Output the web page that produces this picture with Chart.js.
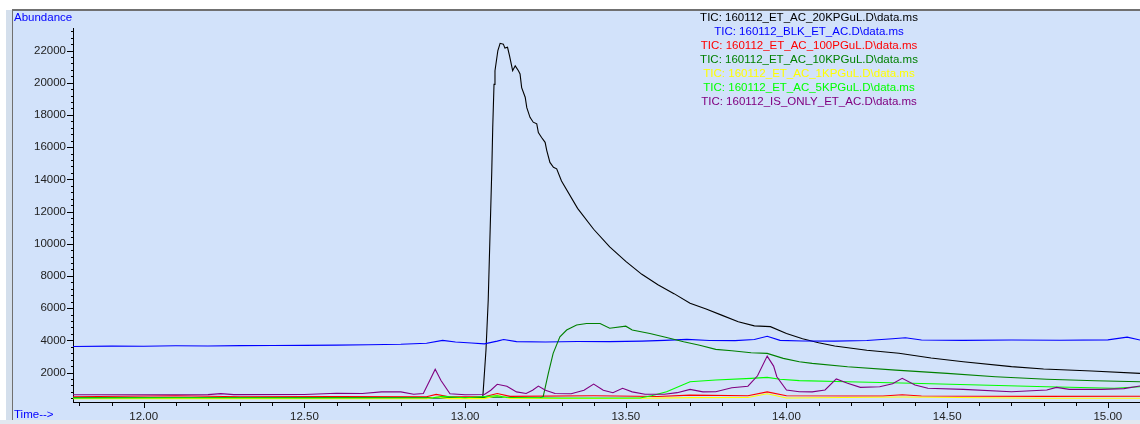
<!DOCTYPE html>
<html>
<head>
<meta charset="utf-8">
<script src="https://cdn.jsdelivr.net/npm/chart.js@4.4.1/dist/chart.umd.min.js"></script>
<style>
  html, body { margin: 0; padding: 0; background: #ffffff; }
  #wrap { width: 1140px; height: 424px; }
</style>
</head>
<body>
<div id="wrap"><canvas id="chart" width="1140" height="424"></canvas></div>
<script>
// TIC overlay, values (time in min, abundance)

var blackTime = [11.78, 12.40, 13.00, 13.055, 13.065, 13.072, 13.083, 13.086, 13.090, 13.093,
  13.102, 13.109, 13.119, 13.124, 13.132, 13.138, 13.148, 13.156, 13.166, 13.171,
  13.176, 13.187, 13.192, 13.202, 13.212, 13.223, 13.228, 13.238, 13.249, 13.254,
  13.264, 13.275, 13.285, 13.30, 13.35, 13.40, 13.45, 13.50, 13.55, 13.60,
  13.65, 13.70, 13.75, 13.80, 13.85, 13.90, 13.95, 14.00, 14.05, 14.10,
  14.15, 14.25, 14.35, 14.45, 14.55, 14.70, 14.80, 14.95, 15.10];
var blackTic = [430, 430, 430, 440, 3400, 6500, 14500, 17200, 19900, 20750,
  22000, 22450, 22400, 22150, 22200, 21700, 20750, 21050, 20750, 20550,
  19700, 19100, 18450, 17850, 17550, 17450, 16900, 16600, 16300, 15800,
  15050, 14750, 14650, 13900, 12200, 10900, 9800, 8900, 8100, 7450,
  6900, 6300, 5950, 5550, 5150, 4900, 4850, 4430, 4100, 3850,
  3650, 3380, 3200, 2900, 2670, 2370, 2220, 2100, 1950];

var blueTime = [11.78, 11.90, 12.00, 12.10, 12.20, 12.30, 12.40, 12.50, 12.60, 12.70,
  12.80, 12.88, 12.93, 12.97, 13.02, 13.06, 13.10, 13.12, 13.16, 13.25,
  13.35, 13.45, 13.55, 13.62, 13.69, 13.76, 13.84, 13.90, 13.94, 13.98,
  14.05, 14.15, 14.25, 14.33, 14.37, 14.42, 14.55, 14.70, 14.85, 15.00,
  15.06, 15.10];
var blueTic = [3620, 3640, 3630, 3660, 3650, 3670, 3680, 3690, 3700, 3730,
  3760, 3820, 4000, 3900, 3830, 3780, 3950, 4050, 3920, 3900,
  3930, 3920, 3950, 4000, 4060, 3990, 3980, 4050, 4250, 4000,
  3960, 3950, 3990, 4100, 4160, 4020, 4000, 4020, 4010, 4030,
  4200, 4020];

var redTime = [11.78, 12.10, 12.30, 12.60, 12.88, 12.91, 12.95, 13.06, 13.10, 13.14,
  13.40, 13.60, 13.70, 13.88, 13.94, 14.00, 14.30, 14.36, 14.42, 14.80, 15.10];
var redTic = [500, 560, 500, 510, 500, 640, 500, 500, 700, 520,
  560, 510, 600, 560, 800, 560, 540, 620, 540, 520, 530];

var greenTime = [11.78, 12.50, 13.00, 13.10, 13.20, 13.233, 13.243, 13.259, 13.274, 13.295,
  13.316, 13.347, 13.378, 13.42, 13.45, 13.50, 13.52, 13.575, 13.627, 13.68,
  13.73, 13.78, 13.83, 13.89, 13.94, 13.99, 14.04, 14.08, 14.19, 14.34,
  14.50, 14.65, 14.81, 14.96, 15.10];
var greenTic = [420, 420, 420, 480, 420, 430, 500, 1950, 3190, 4220,
  4640, 4950, 5050, 5050, 4750, 4880, 4640, 4430, 4180, 3910,
  3700, 3440, 3350, 3230, 3190, 2880, 2670, 2570, 2360, 2150,
  1950, 1740, 1580, 1490, 1430];

var yellowTime = [11.78, 12.40, 12.88, 12.91, 12.95, 13.06, 13.10, 13.14, 13.50, 13.70,
  13.88, 13.94, 14.00, 14.36, 14.80, 15.10];
var yellowTic = [370, 380, 370, 480, 380, 380, 580, 390, 390, 440,
  450, 680, 420, 480, 400, 400];

var limeTime = [11.78, 12.10, 12.50, 12.90, 12.93, 13.00, 13.10, 13.13, 13.30, 13.50,
  13.544, 13.58, 13.627, 13.70, 13.78, 13.89, 13.94, 13.98, 14.04, 14.19,
  14.39, 14.60, 14.81, 15.02, 15.10];
var limeTic = [420, 430, 420, 430, 520, 430, 560, 450, 420, 420,
  420, 560, 810, 1430, 1535, 1640, 1700, 1580, 1500, 1430,
  1330, 1225, 1120, 1020, 1120];

var purpleTime = [11.78, 12.00, 12.20, 12.24, 12.28, 12.50, 12.60, 12.68, 12.74, 12.80,
  12.84, 12.87, 12.89, 12.907, 12.925, 12.953, 13.00, 13.06, 13.08, 13.10,
  13.13, 13.16, 13.19, 13.21, 13.228, 13.25, 13.28, 13.33, 13.37, 13.40,
  13.43, 13.46, 13.49, 13.52, 13.56, 13.62, 13.66, 13.70, 13.74, 13.78,
  13.83, 13.88, 13.91, 13.94, 13.96, 13.97, 14.00, 14.04, 14.08, 14.12,
  14.155, 14.19, 14.23, 14.29, 14.33, 14.36, 14.40, 14.44, 14.55, 14.70,
  14.81, 14.84, 14.88, 14.98, 15.05, 15.10];
var purpleTic = [620, 620, 630, 690, 630, 640, 710, 700, 800, 800,
  650, 700, 1500, 2200, 1500, 680, 620, 640, 900, 1270,
  1150, 800, 700, 900, 1160, 900, 700, 680, 900, 1285,
  900, 750, 1020, 800, 650, 650, 750, 955, 800, 810,
  1060, 1150, 1800, 3020, 2400, 1740, 915, 810, 800, 915,
  1600, 1330, 1080, 1120, 1300, 1640, 1225, 1020, 955, 810,
  915, 1080, 955, 955, 1000, 1160];

var fileNames = [
  'TIC: 160112_ET_AC_20KPGuL.D\\data.ms',
  'TIC: 160112_BLK_ET_AC.D\\data.ms',
  'TIC: 160112_ET_AC_100PGuL.D\\data.ms',
  'TIC: 160112_ET_AC_10KPGuL.D\\data.ms',
  'TIC: 160112_ET_AC_1KPGuL.D\\data.ms',
  'TIC: 160112_ET_AC_5KPGuL.D\\data.ms',
  'TIC: 160112_IS_ONLY_ET_AC.D\\data.ms'
];
var traceColors = ['#000000', '#0000ff', '#ff0000', '#008000', '#ffff00', '#00ff00', '#800080'];

var xLabelTimes = [12.0, 12.5, 13.0, 13.5, 14.0, 14.5, 15.0];
var yLabelValues = [2000, 4000, 6000, 8000, 10000, 12000, 14000, 16000, 18000, 20000, 22000];

var FONT = "'Liberation Sans', Arial, sans-serif";
var BG = '#d2e2fa';

function pts(t, v) {
  return t.map(function (x, i) { return { x: x, y: v[i] }; });
}

function isLabelX(v) {
  return xLabelTimes.some(function (t) { return Math.abs(t - v) < 1e-6; });
}
function isLabelY(v) {
  return yLabelValues.indexOf(Math.round(v)) >= 0;
}

// minor ticks: every 0.1 min and every 400 counts
var xTickList = [];
for (var k = 118; k <= 150; k++) xTickList.push({ value: k / 10 });
var yTickList = [];
for (var m = 1; m <= 58; m++) yTickList.push({ value: m * 400 });

var traces = [
  [blackTime, blackTic], [blueTime, blueTic], [redTime, redTic], [greenTime, greenTic],
  [yellowTime, yellowTic], [limeTime, limeTic], [purpleTime, purpleTic]
];

var datasets = traces.map(function (tr, i) {
  return {
    label: fileNames[i],
    data: pts(tr[0], tr[1]),
    borderColor: traceColors[i],
    borderWidth: 1.1,
    pointRadius: 0,
    tension: 0,
    fill: false,
    order: 6 - i
  };
});

// plot frame, ticks and the text-only legend like the chemstation window
var framePlugin = {
  id: 'frame',
  beforeDraw: function (chart) {
    var c = chart.ctx;
    c.save();
    c.fillStyle = '#ffffff';
    c.fillRect(0, 0, 1140, 424);
    c.fillStyle = '#d4dfec';
    c.fillRect(6, 10, 6, 414);
    c.fillStyle = BG;
    c.fillRect(13, 11, 1127, 413);
    c.fillStyle = '#707070';
    c.fillRect(12, 9, 1128, 2);
    c.fillRect(12, 9, 1, 415);
    c.restore();
  },
  afterDraw: function (chart) {
    var c = chart.ctx;
    var xs = chart.scales.x, ys = chart.scales.y;
    c.save();
    c.strokeStyle = '#000000';
    c.lineWidth = 1;
    xs.ticks.forEach(function (t) {
      var px = Math.round(xs.getPixelForValue(t.value)) + 0.5;
      var len = isLabelX(t.value) ? 6 : 4;
      c.beginPath();
      c.moveTo(px, xs.top);
      c.lineTo(px, xs.top + len);
      c.stroke();
    });
    ys.ticks.forEach(function (t) {
      var py = Math.round(ys.getPixelForValue(t.value)) + 0.5;
      var len = isLabelY(t.value) ? 6 : 2;
      c.beginPath();
      c.moveTo(ys.right - len, py);
      c.lineTo(ys.right, py);
      c.stroke();
    });

    c.font = '11.5px ' + FONT;
    c.textBaseline = 'middle';
    c.textAlign = 'center';
    fileNames.forEach(function (n, i) {
      c.fillStyle = traceColors[i];
      c.fillText(n, 809, 18 + i * 14);
    });

    c.textAlign = 'left';
    c.fillStyle = '#0000ff';
    c.fillText('Abundance', 14, 18);
    c.fillText('Time-->', 14, 415);

    c.fillStyle = '#e2e8f0';
    c.fillRect(0, 420, 1140, 4);
    c.restore();
  }
};

var ctx = document.getElementById('chart').getContext('2d');

var chart = new Chart(ctx, {
  type: 'line',
  data: { datasets: datasets },
  options: {
    responsive: false,
    animation: false,
    devicePixelRatio: 1,
    layout: { padding: { top: 28, left: 0, right: 0, bottom: 0 } },
    plugins: {
      legend: { display: false },
      tooltip: { enabled: false }
    },
    scales: {
      x: {
        type: 'linear',
        min: 11.78,
        max: 15.10,
        afterBuildTicks: function (s) { s.ticks = xTickList.slice(); },
        afterFit: function (s) { s.height = 22; s.paddingLeft = 0; s.paddingRight = 0; },
        grid: { display: false, drawTicks: false },
        border: { display: true, color: '#000000', width: 1 },
        ticks: {
          autoSkip: false,
          maxRotation: 0,
          padding: 8,
          color: '#222222',
          font: { family: FONT, size: 11.5 },
          callback: function (v) { return isLabelX(v) ? v.toFixed(2) : ''; }
        }
      },
      y: {
        min: 170,
        max: 23400,
        afterBuildTicks: function (s) { s.ticks = yTickList.slice(); },
        afterFit: function (s) { s.width = 73; s.paddingTop = 0; s.paddingBottom = 0; },
        grid: { display: false, drawTicks: false },
        border: { display: true, color: '#000000', width: 1 },
        ticks: {
          autoSkip: false,
          padding: 7,
          color: '#222222',
          font: { family: FONT, size: 11.5 },
          callback: function (v) { return isLabelY(v) ? String(v) : ''; }
        }
      }
    }
  },
  plugins: [framePlugin]
});
</script>
</body>
</html>
